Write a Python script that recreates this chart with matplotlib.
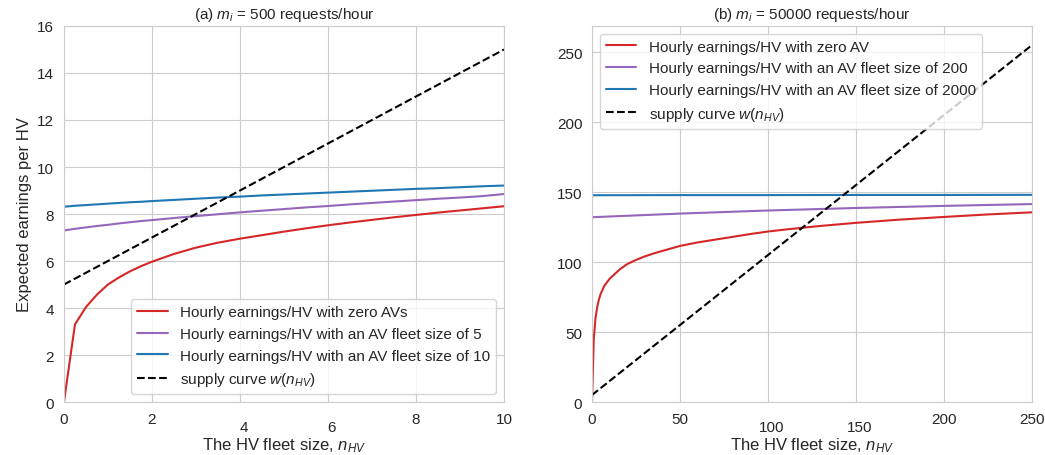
import matplotlib
matplotlib.use("Agg")
import matplotlib.pyplot as plt
import matplotlib.transforms as mtransforms
import seaborn as sns

sns.set_style("whitegrid")
plt.rcParams['font.family'] = ['Liberation Sans', 'DejaVu Sans']
plt.rcParams['mathtext.fontset'] = 'custom'
plt.rcParams['mathtext.it'] = 'Liberation Sans:italic'
plt.rcParams['mathtext.rm'] = 'Liberation Sans'

# ---- panel (a): m_i = 500 requests/hour ----
n_a = [0, 0.25, 0.5, 0.75, 1, 1.25, 1.5, 1.75, 2, 2.5, 3, 3.5, 4, 4.5, 5,
       5.5, 6, 6.5, 7, 7.5, 8, 8.5, 9, 9.5, 10]
zero_av_a = [0, 3.3, 4.04, 4.57, 5.0, 5.3, 5.56, 5.78, 5.97, 6.3, 6.57, 6.78, 6.95,
             7.1, 7.25, 7.39, 7.52, 7.64, 7.75, 7.86, 7.96, 8.06, 8.15, 8.24, 8.33]
av5_a = [7.3, 7.37, 7.43, 7.49, 7.54, 7.6, 7.65, 7.7, 7.74, 7.83, 7.91, 7.99, 8.07,
         8.14, 8.21, 8.28, 8.34, 8.41, 8.47, 8.53, 8.59, 8.65, 8.7, 8.76, 8.85]
av10_a = [8.31, 8.35, 8.38, 8.41, 8.44, 8.47, 8.5, 8.52, 8.55, 8.6, 8.65, 8.7, 8.74,
          8.79, 8.83, 8.87, 8.91, 8.95, 8.99, 9.03, 9.07, 9.1, 9.14, 9.18, 9.21]
supply_a = [5 + v for v in n_a]

# ---- panel (b): m_i = 50000 requests/hour ----
n_b = [0, 1, 2, 3, 4, 5, 7, 10, 13, 16, 20, 25, 30, 36, 43, 50, 60, 75, 90, 100,
       112, 130, 150, 175, 200, 225, 250]
zero_av_b = [0, 45, 60, 68, 73.5, 77.5, 83, 88, 91.5, 95, 98.5, 101.5, 104, 106.5,
             109, 111.5, 114, 117, 120, 121.8, 123.5, 125.8, 128, 130.3, 132.2, 134, 135.5]
n_b2 = [0, 50, 100, 150, 200, 250]
av200_b = [132.0, 134.6, 136.8, 138.6, 140.1, 141.4]
av2000_b = [147.7, 147.8, 147.8, 147.9, 147.9, 148.0]
supply_b = [5 + v for v in n_b2]

labels_a = ["Hourly earnings/HV with zero AVs",
            "Hourly earnings/HV with an AV fleet size of 5",
            "Hourly earnings/HV with an AV fleet size of 10",
            r"supply curve $w(n_{HV})$"]
labels_b = ["Hourly earnings/HV with zero AV",
            "Hourly earnings/HV with an AV fleet size of 200",
            "Hourly earnings/HV with an AV fleet size of 2000",
            r"supply curve $w(n_{HV})$"]

RED, PURPLE, BLUE = '#d62728', '#9467bd', '#1f77b4'

fig = plt.figure(figsize=(10.45, 4.56), dpi=100)
ax1 = fig.add_axes([0.0612, 0.1162, 0.4211, 0.8246])
ax2 = fig.add_axes([0.5665, 0.1162, 0.4211, 0.8246])

lw = 1.5
ax1.plot(n_a, zero_av_a, color=RED, lw=lw, label=labels_a[0])
ax1.plot(n_a, av5_a, color=PURPLE, lw=lw, label=labels_a[1])
ax1.plot(n_a, av10_a, color=BLUE, lw=lw, label=labels_a[2])
ax1.plot(n_a, supply_a, color='black', lw=lw, ls='--', label=labels_a[3])
ax1.set_xlim(0, 10)
ax1.set_ylim(0, 16)
ax1.set_xticks([0, 2, 4, 6, 8, 10])
ax1.set_yticks(range(0, 17, 2))
ax1.set_title(r"(a) $m_i$ = 500 requests/hour", fontsize=11)
ax1.set_xlabel(r"The HV fleet size, $n_{HV}$", fontsize=12)
ax1.set_ylabel("Expected earnings per HV", fontsize=12)
ax1.legend(loc='lower right', fontsize=11, frameon=True)

ax2.plot(n_b, zero_av_b, color=RED, lw=lw, label=labels_b[0])
ax2.plot(n_b2, av200_b, color=PURPLE, lw=lw, label=labels_b[1])
ax2.plot(n_b2, av2000_b, color=BLUE, lw=lw, label=labels_b[2])
ax2.plot(n_b2, supply_b, color='black', lw=lw, ls='--', label=labels_b[3])
ax2.set_xlim(0, 250)
ax2.set_ylim(0, 268.6)
ax2.set_xticks([0, 50, 100, 150, 200, 250])
ax2.set_yticks(range(0, 251, 50))
ax2.set_title(r"(b) $m_i$ = 50000 requests/hour", fontsize=11)
ax2.set_xlabel(r"The HV fleet size, $n_{HV}$", fontsize=12)
ax2.legend(loc='upper left', fontsize=11, frameon=True)

shift = mtransforms.ScaledTranslation(4 / 100, 0, fig.dpi_scale_trans)
for ax in (ax1, ax2):
    ax.tick_params(labelsize=11)
    for spine in ax.spines.values():
        spine.set_color('#cccccc')
    ticks = ax.xaxis.get_major_ticks()
    for i in (2, 3):
        ticks[i].set_pad(ticks[i].get_pad() + 6.3)
        ticks[i].label1.set_transform(ticks[i].label1.get_transform() + shift)
    ax.xaxis.set_label_coords(0.5, -0.088)
    ax.xaxis.label.set_verticalalignment('top')

fig.savefig("out.png", dpi=100)
